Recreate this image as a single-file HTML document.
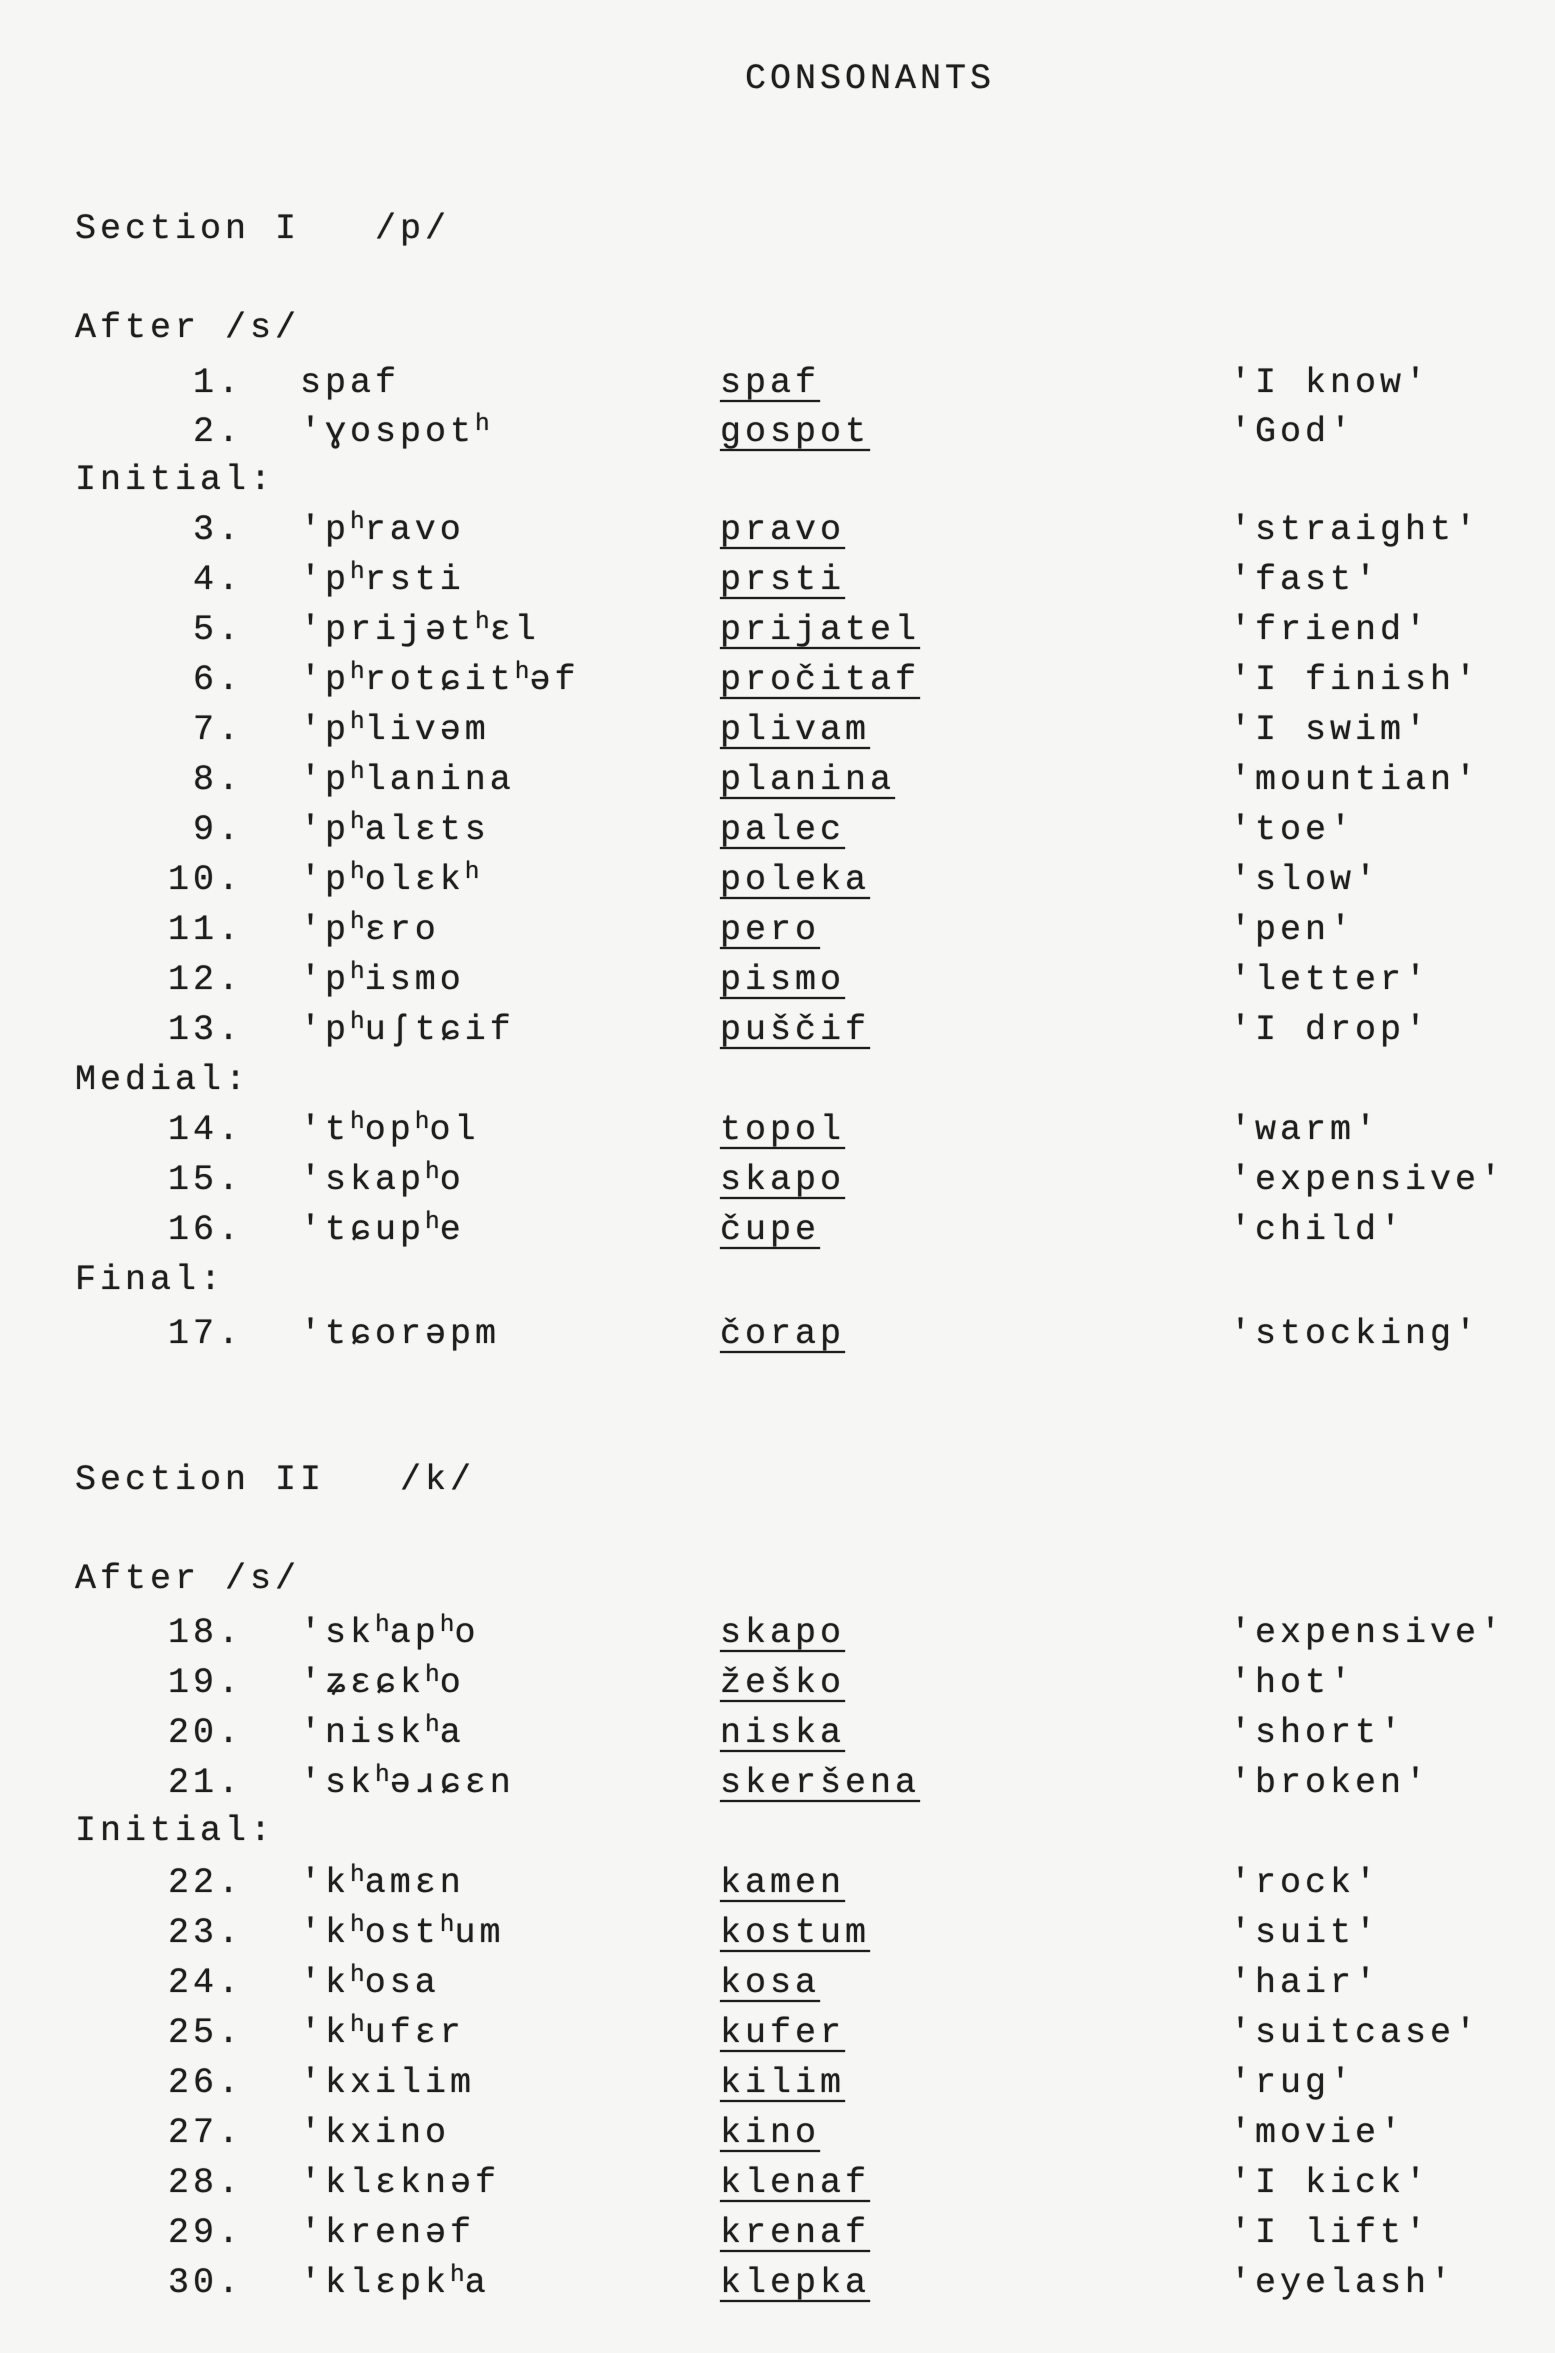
<!DOCTYPE html>
<html><head><meta charset="utf-8"><style>
body{margin:0;background:#f6f6f5;}
#p{position:relative;width:1555px;height:2353px;overflow:hidden;font-family:"Liberation Mono",monospace;font-size:35px;letter-spacing:4px;color:#1e1e1e;text-shadow:0 0 1px #444;}
.t{position:absolute;white-space:pre;line-height:1;}
.n{position:absolute;white-space:pre;line-height:1;text-align:right;width:100px;}
.u{text-decoration:underline;text-underline-offset:8px;text-decoration-thickness:2px;}
sup{font-size:0.7em;vertical-align:0.45em;line-height:0;letter-spacing:0}
</style></head><body><div id="p">
<div class="t" style="left:745px;top:62px;">CONSONANTS</div>
<div class="t" style="left:75px;top:212px;">Section I   /p/</div>
<div class="t" style="left:75px;top:311px;">After /s/</div>
<div class="n" style="left:143px;top:366px;">1.</div><div class="t" style="left:300px;top:366px;">spaf</div><div class="t u" style="left:720px;top:366px;">spaf</div><div class="t" style="left:1230px;top:366px;">'I know'</div>
<div class="n" style="left:143px;top:415px;">2.</div><div class="t" style="left:300px;top:415px;">'ɣospot<sup>h</sup></div><div class="t u" style="left:720px;top:415px;">gospot</div><div class="t" style="left:1230px;top:415px;">'God'</div>
<div class="t" style="left:75px;top:463px;">Initial:</div>
<div class="n" style="left:143px;top:513px;">3.</div><div class="t" style="left:300px;top:513px;">'p<sup>h</sup>ravo</div><div class="t u" style="left:720px;top:513px;">pravo</div><div class="t" style="left:1230px;top:513px;">'straight'</div>
<div class="n" style="left:143px;top:563px;">4.</div><div class="t" style="left:300px;top:563px;">'p<sup>h</sup>rsti</div><div class="t u" style="left:720px;top:563px;">prsti</div><div class="t" style="left:1230px;top:563px;">'fast'</div>
<div class="n" style="left:143px;top:613px;">5.</div><div class="t" style="left:300px;top:613px;">'prijət<sup>h</sup>ɛl</div><div class="t u" style="left:720px;top:613px;">prijatel</div><div class="t" style="left:1230px;top:613px;">'friend'</div>
<div class="n" style="left:143px;top:663px;">6.</div><div class="t" style="left:300px;top:663px;">'p<sup>h</sup>rotɕit<sup>h</sup>əf</div><div class="t u" style="left:720px;top:663px;">pročitaf</div><div class="t" style="left:1230px;top:663px;">'I finish'</div>
<div class="n" style="left:143px;top:713px;">7.</div><div class="t" style="left:300px;top:713px;">'p<sup>h</sup>livəm</div><div class="t u" style="left:720px;top:713px;">plivam</div><div class="t" style="left:1230px;top:713px;">'I swim'</div>
<div class="n" style="left:143px;top:763px;">8.</div><div class="t" style="left:300px;top:763px;">'p<sup>h</sup>lanina</div><div class="t u" style="left:720px;top:763px;">planina</div><div class="t" style="left:1230px;top:763px;">'mountian'</div>
<div class="n" style="left:143px;top:813px;">9.</div><div class="t" style="left:300px;top:813px;">'p<sup>h</sup>alɛts</div><div class="t u" style="left:720px;top:813px;">palec</div><div class="t" style="left:1230px;top:813px;">'toe'</div>
<div class="n" style="left:143px;top:863px;">10.</div><div class="t" style="left:300px;top:863px;">'p<sup>h</sup>olɛk<sup>h</sup></div><div class="t u" style="left:720px;top:863px;">poleka</div><div class="t" style="left:1230px;top:863px;">'slow'</div>
<div class="n" style="left:143px;top:913px;">11.</div><div class="t" style="left:300px;top:913px;">'p<sup>h</sup>ɛro</div><div class="t u" style="left:720px;top:913px;">pero</div><div class="t" style="left:1230px;top:913px;">'pen'</div>
<div class="n" style="left:143px;top:963px;">12.</div><div class="t" style="left:300px;top:963px;">'p<sup>h</sup>ismo</div><div class="t u" style="left:720px;top:963px;">pismo</div><div class="t" style="left:1230px;top:963px;">'letter'</div>
<div class="n" style="left:143px;top:1013px;">13.</div><div class="t" style="left:300px;top:1013px;">'p<sup>h</sup>uʃtɕif</div><div class="t u" style="left:720px;top:1013px;">puščif</div><div class="t" style="left:1230px;top:1013px;">'I drop'</div>
<div class="t" style="left:75px;top:1063px;">Medial:</div>
<div class="n" style="left:143px;top:1113px;">14.</div><div class="t" style="left:300px;top:1113px;">'t<sup>h</sup>op<sup>h</sup>ol</div><div class="t u" style="left:720px;top:1113px;">topol</div><div class="t" style="left:1230px;top:1113px;">'warm'</div>
<div class="n" style="left:143px;top:1163px;">15.</div><div class="t" style="left:300px;top:1163px;">'skap<sup>h</sup>o</div><div class="t u" style="left:720px;top:1163px;">skapo</div><div class="t" style="left:1230px;top:1163px;">'expensive'</div>
<div class="n" style="left:143px;top:1213px;">16.</div><div class="t" style="left:300px;top:1213px;">'tɕup<sup>h</sup>e</div><div class="t u" style="left:720px;top:1213px;">čupe</div><div class="t" style="left:1230px;top:1213px;">'child'</div>
<div class="t" style="left:75px;top:1263px;">Final:</div>
<div class="n" style="left:143px;top:1317px;">17.</div><div class="t" style="left:300px;top:1317px;">'tɕorəpm</div><div class="t u" style="left:720px;top:1317px;">čorap</div><div class="t" style="left:1230px;top:1317px;">'stocking'</div>
<div class="t" style="left:75px;top:1463px;">Section II   /k/</div>
<div class="t" style="left:75px;top:1562px;">After /s/</div>
<div class="n" style="left:143px;top:1616px;">18.</div><div class="t" style="left:300px;top:1616px;">'sk<sup>h</sup>ap<sup>h</sup>o</div><div class="t u" style="left:720px;top:1616px;">skapo</div><div class="t" style="left:1230px;top:1616px;">'expensive'</div>
<div class="n" style="left:143px;top:1666px;">19.</div><div class="t" style="left:300px;top:1666px;">'ʑɛɕk<sup>h</sup>o</div><div class="t u" style="left:720px;top:1666px;">žeško</div><div class="t" style="left:1230px;top:1666px;">'hot'</div>
<div class="n" style="left:143px;top:1716px;">20.</div><div class="t" style="left:300px;top:1716px;">'nisk<sup>h</sup>a</div><div class="t u" style="left:720px;top:1716px;">niska</div><div class="t" style="left:1230px;top:1716px;">'short'</div>
<div class="n" style="left:143px;top:1766px;">21.</div><div class="t" style="left:300px;top:1766px;">'sk<sup>h</sup>əɹɕɛn</div><div class="t u" style="left:720px;top:1766px;">skeršena</div><div class="t" style="left:1230px;top:1766px;">'broken'</div>
<div class="t" style="left:75px;top:1814px;">Initial:</div>
<div class="n" style="left:143px;top:1866px;">22.</div><div class="t" style="left:300px;top:1866px;">'k<sup>h</sup>amɛn</div><div class="t u" style="left:720px;top:1866px;">kamen</div><div class="t" style="left:1230px;top:1866px;">'rock'</div>
<div class="n" style="left:143px;top:1916px;">23.</div><div class="t" style="left:300px;top:1916px;">'k<sup>h</sup>ost<sup>h</sup>um</div><div class="t u" style="left:720px;top:1916px;">kostum</div><div class="t" style="left:1230px;top:1916px;">'suit'</div>
<div class="n" style="left:143px;top:1966px;">24.</div><div class="t" style="left:300px;top:1966px;">'k<sup>h</sup>osa</div><div class="t u" style="left:720px;top:1966px;">kosa</div><div class="t" style="left:1230px;top:1966px;">'hair'</div>
<div class="n" style="left:143px;top:2016px;">25.</div><div class="t" style="left:300px;top:2016px;">'k<sup>h</sup>ufɛr</div><div class="t u" style="left:720px;top:2016px;">kufer</div><div class="t" style="left:1230px;top:2016px;">'suitcase'</div>
<div class="n" style="left:143px;top:2066px;">26.</div><div class="t" style="left:300px;top:2066px;">'kxilim</div><div class="t u" style="left:720px;top:2066px;">kilim</div><div class="t" style="left:1230px;top:2066px;">'rug'</div>
<div class="n" style="left:143px;top:2116px;">27.</div><div class="t" style="left:300px;top:2116px;">'kxino</div><div class="t u" style="left:720px;top:2116px;">kino</div><div class="t" style="left:1230px;top:2116px;">'movie'</div>
<div class="n" style="left:143px;top:2166px;">28.</div><div class="t" style="left:300px;top:2166px;">'klɛknəf</div><div class="t u" style="left:720px;top:2166px;">klenaf</div><div class="t" style="left:1230px;top:2166px;">'I kick'</div>
<div class="n" style="left:143px;top:2216px;">29.</div><div class="t" style="left:300px;top:2216px;">'krenəf</div><div class="t u" style="left:720px;top:2216px;">krenaf</div><div class="t" style="left:1230px;top:2216px;">'I lift'</div>
<div class="n" style="left:143px;top:2266px;">30.</div><div class="t" style="left:300px;top:2266px;">'klɛpk<sup>h</sup>a</div><div class="t u" style="left:720px;top:2266px;">klepka</div><div class="t" style="left:1230px;top:2266px;">'eyelash'</div>
</div></body></html>
